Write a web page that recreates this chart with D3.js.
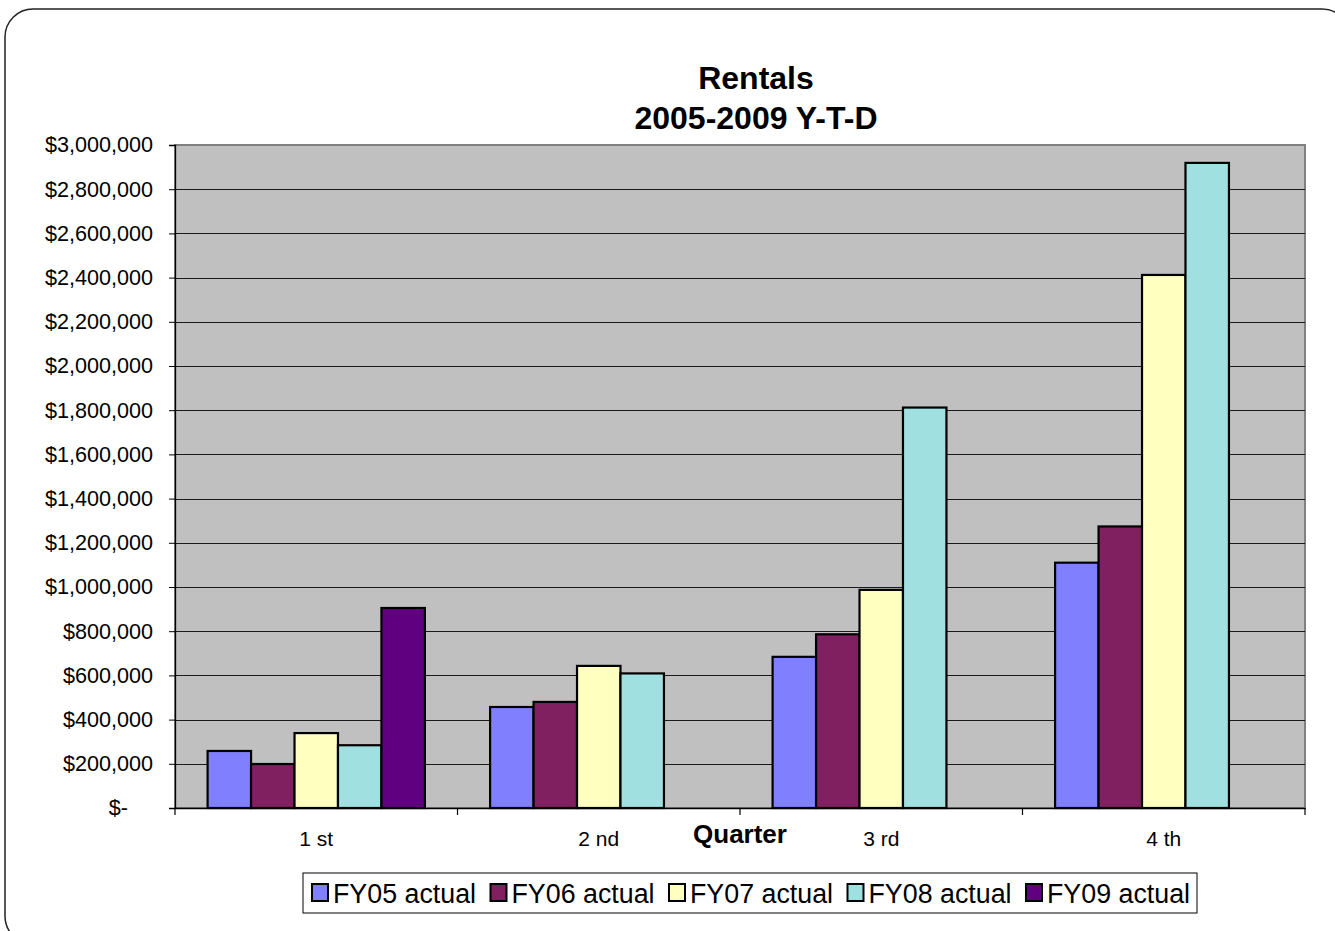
<!DOCTYPE html>
<html>
<head>
<meta charset="utf-8">
<script src="https://cdn.jsdelivr.net/npm/d3@7"></script>
<style>
  html, body { margin: 0; padding: 0; background: #fff; }
  svg { display: block; font-family: "Liberation Sans", Arial, sans-serif; }
</style>
</head>
<body>
<svg id="chart" width="1335" height="931"></svg>
<script>
// Rentals by quarter, year-to-date, fiscal years 2005-2009
const quarters = ["1 st", "2 nd", "3 rd", "4 th"];
const seriesNames = ["FY05 actual", "FY06 actual", "FY07 actual", "FY08 actual", "FY09 actual"];
const seriesColors = ["#8080FF", "#802060", "#FFFFC0", "#A0E0E0", "#600080"];
const fy05 = [258000, 457000, 684000, 1110000];
const fy06 = [199000, 480000, 786000, 1274000];
const fy07 = [339000, 643000, 987000, 2412000];
const fy08 = [284000, 609000, 1812000, 2919000];
const fy09 = [905000, null, null, null];
const yTicks = [0, 200000, 400000, 600000, 800000, 1000000, 1200000, 1400000,
                1600000, 1800000, 2000000, 2200000, 2400000, 2600000, 2800000, 3000000];

const seriesValues = [fy05, fy06, fy07, fy08, fy09];
const svg = d3.select("#chart");

// Rounded outer frame
svg.append("rect")
  .attr("x", 5).attr("y", 9).attr("width", 1345).attr("height", 935)
  .attr("rx", 28).attr("ry", 28)
  .attr("fill", "#fff").attr("stroke", "#222").attr("stroke-width", 1.5);

const plot = { left: 175, right: 1305, top: 145, bottom: 808 };

const x0 = d3.scaleBand().domain(quarters).range([plot.left, plot.right]).paddingInner(0).paddingOuter(0);
const x1 = d3.scaleBand().domain(seriesNames).range([0, x0.bandwidth()]).paddingInner(0).paddingOuter(0.75);
const y = d3.scaleLinear().domain([0, 3000000]).range([plot.bottom, plot.top]);

// Plot background
svg.append("rect")
  .attr("x", plot.left).attr("y", plot.top)
  .attr("width", plot.right - plot.left).attr("height", plot.bottom - plot.top)
  .attr("fill", "#C0C0C0").attr("stroke", "#808080").attr("stroke-width", 2);

// Horizontal gridlines
svg.append("g").selectAll("line")
  .data(yTicks.filter(t => t > 0 && t < 3000000))
  .join("line")
  .attr("x1", plot.left).attr("x2", plot.right)
  .attr("y1", d => Math.round(y(d)) + 0.5).attr("y2", d => Math.round(y(d)) + 0.5)
  .attr("stroke", "#1a1a1a").attr("stroke-width", 1);

// Bars
const groups = svg.append("g").selectAll("g")
  .data(quarters)
  .join("g")
  .attr("transform", d => `translate(${x0(d)},0)`);

groups.selectAll("rect")
  .data((q, qi) => seriesNames.map((s, si) => ({ s, v: seriesValues[si][qi], c: seriesColors[si] }))
    .filter(d => d.v !== null))
  .join("rect")
  .attr("x", d => x1(d.s))
  .attr("y", d => y(d.v))
  .attr("width", x1.bandwidth())
  .attr("height", d => y(0) - y(d.v))
  .attr("fill", d => d.c)
  .attr("stroke", "#000").attr("stroke-width", 2.2);

// Y axis
const fmt = d3.format(",");
const yAxis = svg.append("g")
  .attr("transform", `translate(${plot.left},0)`)
  .call(d3.axisLeft(y).tickValues(yTicks).tickSize(6).tickPadding(16)
    .tickFormat(d => d === 0 ? "$-" : "$" + fmt(d)));
yAxis.select(".domain").attr("stroke", "#000").attr("stroke-width", 1.3);
yAxis.selectAll(".tick line").attr("stroke", "#000");
yAxis.selectAll(".tick text")
  .attr("font-size", 21.6).attr("fill", "#000")
  .attr("font-family", "Liberation Sans, Arial, sans-serif")
  .attr("dx", d => d === 0 ? -25 : 0);

// X axis
const xAxis = svg.append("g")
  .attr("transform", `translate(0,${plot.bottom})`)
  .call(d3.axisBottom(x0).tickSize(0).tickPadding(23));
xAxis.select(".domain").attr("stroke", "#000").attr("stroke-width", 1.3);
xAxis.selectAll(".tick text")
  .attr("font-size", 21).attr("fill", "#000")
  .attr("font-family", "Liberation Sans, Arial, sans-serif");
// category divider ticks
svg.append("g").selectAll("line")
  .data(quarters.map(q => x0(q)).concat([plot.right]))
  .join("line")
  .attr("x1", d => d).attr("x2", d => d)
  .attr("y1", plot.bottom).attr("y2", plot.bottom + 7)
  .attr("stroke", "#000").attr("stroke-width", 1.2);

// Title
const title = svg.append("text")
  .attr("text-anchor", "middle").attr("font-weight", "bold").attr("font-size", 32).attr("fill", "#000");
title.append("tspan").attr("x", 756).attr("y", 89).text("Rentals");
title.append("tspan").attr("x", 756).attr("y", 129).text("2005-2009 Y-T-D");

// Axis title
svg.append("text")
  .attr("x", 740).attr("y", 843)
  .attr("text-anchor", "middle").attr("font-weight", "bold").attr("font-size", 26).attr("fill", "#000")
  .text("Quarter");

// Legend
const legend = svg.append("g");
legend.append("rect")
  .attr("x", 303).attr("y", 873).attr("width", 894).attr("height", 40)
  .attr("fill", "#fff").attr("stroke", "#000").attr("stroke-width", 1);
const items = legend.selectAll("g.item")
  .data(seriesNames)
  .join("g").attr("class", "item")
  .attr("transform", (d, i) => `translate(${312 + i * 178.5},0)`);
items.append("rect")
  .attr("x", 0).attr("y", 884).attr("width", 16).attr("height", 17)
  .attr("fill", (d, i) => seriesColors[i]).attr("stroke", "#000").attr("stroke-width", 2);
items.append("text")
  .attr("x", 21).attr("y", 903)
  .attr("font-size", 26.8).attr("fill", "#000")
  .text(d => d);
</script>
</body>
</html>
